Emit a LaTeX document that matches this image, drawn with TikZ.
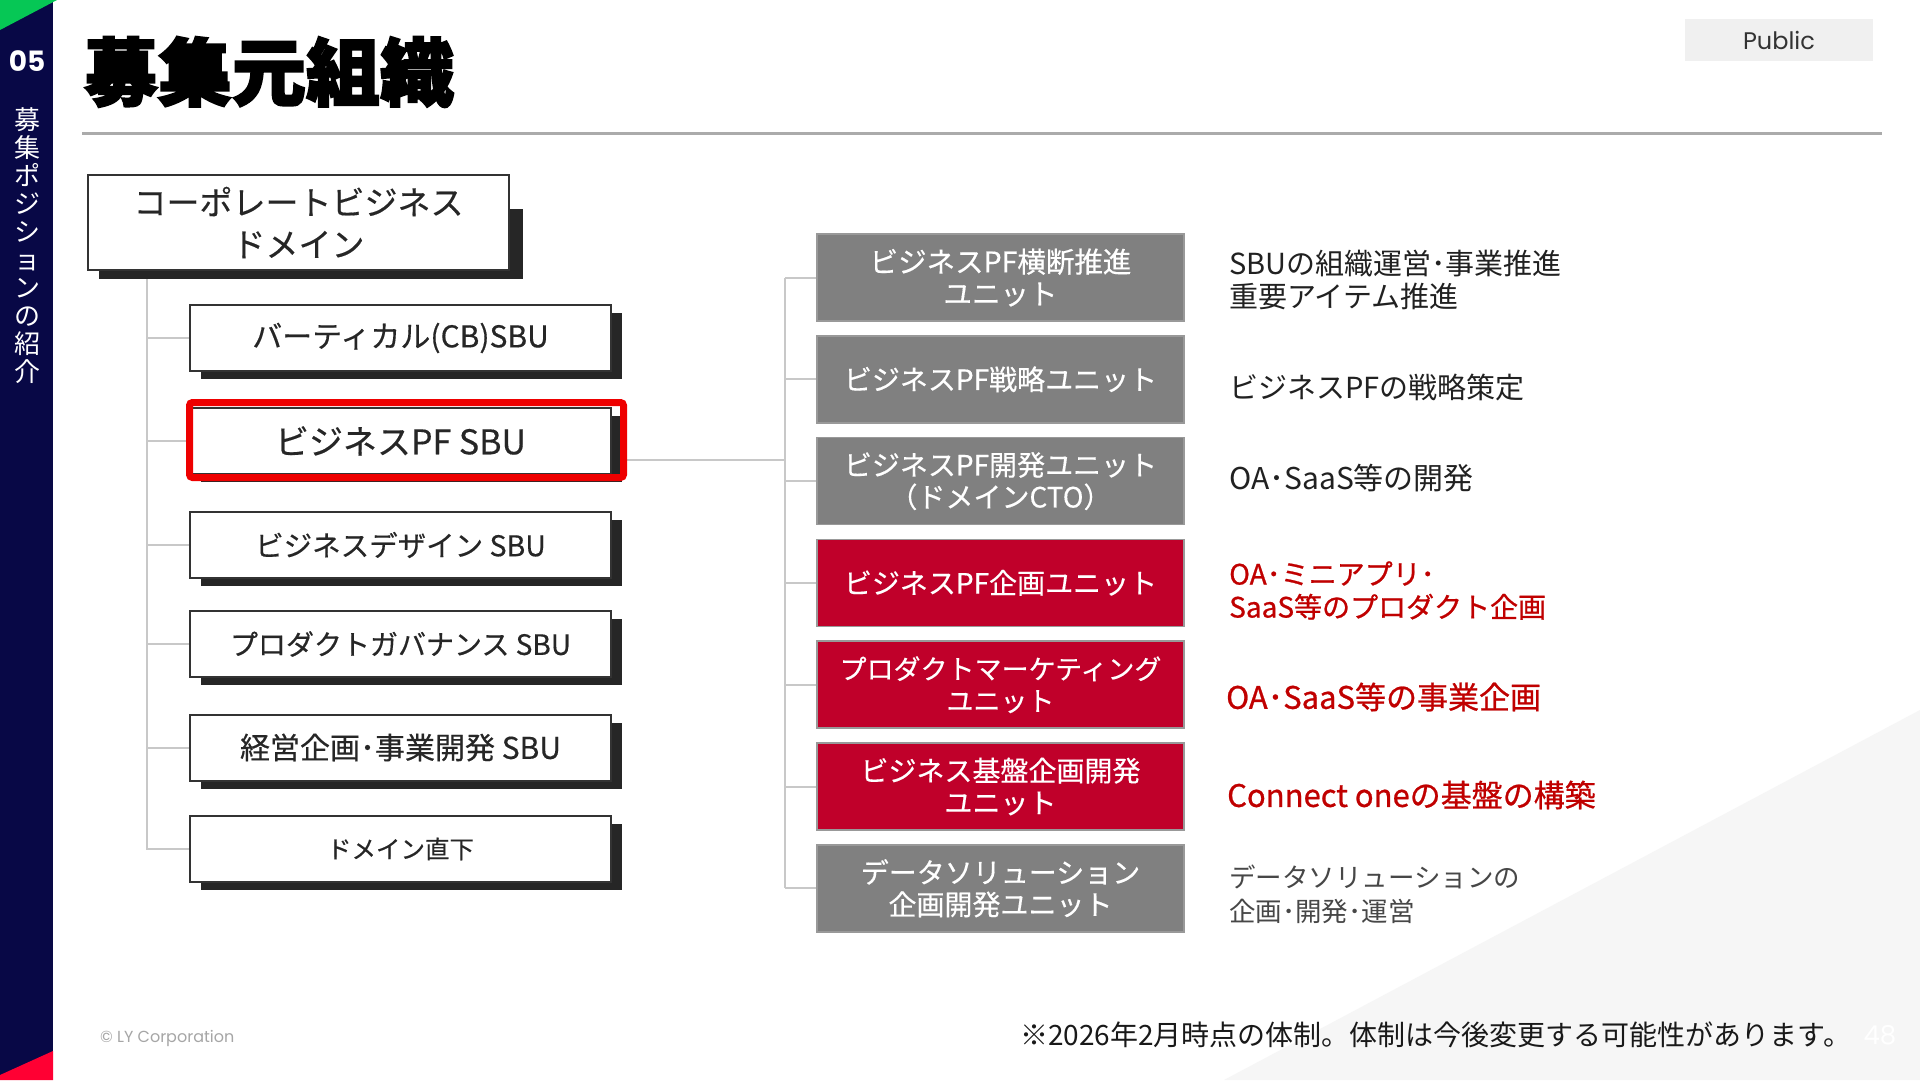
\documentclass[tikz,border=0pt]{standalone}
\usepackage{fontspec}
\usetikzlibrary{calc}
\setmainfont{Noto Sans CJK JP}
\newfontfamily\jp{Noto Sans CJK JP}
\newfontfamily\jpm[FakeBold=0.4]{Noto Sans CJK JP}
\newfontfamily\jpmed[FakeBold=0.8]{Noto Sans CJK JP}
\newfontfamily\jptitle[BoldFeatures={FakeBold=2.5}]{Noto Sans CJK JP}
\newfontfamily\pop{Poppins}
\definecolor{navy}{RGB}{8,8,70}
\definecolor{lygreen}{HTML}{06C755}
\definecolor{lyred}{HTML}{FF0033}
\definecolor{boxred}{HTML}{C0002A}
\definecolor{boxgray}{HTML}{808080}
\definecolor{treegray}{HTML}{C8C8C8}
\definecolor{shadowc}{HTML}{262626}
\definecolor{descred}{HTML}{C00000}
\definecolor{selred}{RGB}{238,0,0}
\definecolor{publicbg}{HTML}{F0F0F0}
\definecolor{bgtri}{HTML}{F6F6F6}
\pgfdeclarelayer{bg}
\pgfdeclarelayer{conn}
\pgfsetlayers{bg,conn,main}
\begin{document}
\begin{tikzpicture}[x=1pt,y=-1pt,
  boxbase/.style={draw=black!80, line width=2pt, fill=white, inner sep=0pt, align=center, text=black!85},
  sbu/.style={boxbase, minimum width=421pt, minimum height=66pt,
    font=\jpm\fontsize{30}{36}\selectfont,
    preaction={fill=shadowc, transform canvas={xshift=11pt,yshift=-8pt}}},
  unit/.style={draw=black!40, line width=1.5pt, minimum width=367pt, minimum height=87pt,
    inner sep=0pt, align=center, text=white, font=\jpm\fontsize{28}{32}\selectfont},
  graybox/.style={unit, fill=boxgray},
  redbox/.style={unit, fill=boxred},
  desc/.style={anchor=west, align=left, inner sep=0pt, font=\jp\fontsize{29}{33}\selectfont, text=black!87},
  descr/.style={anchor=west, align=left, inner sep=0pt, font=\jpmed\fontsize{28}{33}\selectfont, text=descred},
  tree/.style={draw=treegray, line width=2pt},
]
\useasboundingbox (0,0) rectangle (1920,1080);
\begin{pgfonlayer}{bg}
  \fill[white] (0,0) rectangle (1920,1080);
  \fill[bgtri] (1224,1080) -- (1920,710) -- (1920,1080) -- cycle;
  \fill[navy] (0,0) rectangle (53,1080);
  \fill[lygreen] (0,0) -- (57,0) -- (0,30) -- cycle;
  \fill[lyred] (0,1075) -- (53,1051) -- (53,1080) -- (0,1080) -- cycle;
\end{pgfonlayer}

% sidebar
\node[text=white, font=\pop\bfseries\fontsize{28}{30}\selectfont, inner sep=0pt] (num) at (27,61) {05};
\node[text=white, font=\jp\fontsize{26}{28}\selectfont, align=center, inner sep=0pt, anchor=north] (side) at (27,107)
  {募\\集\\ポ\\ジ\\シ\\ョ\\ン\\の\\紹\\介};

% title
\node[font=\jptitle\bfseries\fontsize{74}{80}\selectfont, inner sep=0pt] (title) at (269,72) {募集元組織};
\draw[line width=3pt, black!33] (82,133) -- (1882,133);
\node[fill=publicbg, minimum width=188pt, minimum height=42pt, inner sep=0pt,
  font=\pop\fontsize{24}{26}\selectfont, text=black!80] (pub) at (1779,40) {Public};

% left tree
\node[boxbase, minimum width=421pt, minimum height=95pt, font=\jpm\fontsize{33}{42}\selectfont] (tb) at (298.5,222.5)
  {コーポレートビジネス\\ドメイン};
\node[sbu] (b1) at (400.5,338) {バーティカル(CB)SBU};
\node[sbu, font=\jpm\fontsize{34}{40}\selectfont] (b2) at (400.5,441) {ビジネスPF SBU};
\node[sbu, font=\jpm\fontsize{28.5}{34}\selectfont] (b3) at (400.5,545) {ビジネスデザイン SBU};
\node[sbu, font=\jpm\fontsize{28}{34}\selectfont] (b4) at (400.5,644) {プロダクトガバナンス SBU};
\node[sbu] (b5) at (400.5,747.5) {経営企画･事業開発 SBU};
\node[sbu, font=\jpm\fontsize{24.5}{30}\selectfont] (b6) at (400.5,849) {ドメイン直下};
\node[draw=selred, line width=7pt, rounded corners=3pt, minimum width=434pt, minimum height=75pt, inner sep=0pt] (pfsel) at (406.5,440) {};

% right units
\node[graybox, font=\jpm\fontsize{28.5}{32}\selectfont] (u1) at (1000.5,277.5) {ビジネスPF横断推進\\ユニット};
\node[graybox] (u2) at (1000.5,379.3) {ビジネスPF戦略ユニット};
\node[graybox] (u3) at (1000.5,481.1) {ビジネスPF開発ユニット\\（ドメインCTO）};
\node[redbox] (u4) at (1000.5,582.9) {ビジネスPF企画ユニット};
\node[redbox, font=\jpm\fontsize{27}{32}\selectfont] (u5) at (1000.5,684.7) {プロダクトマーケティング\\ユニット};
\node[redbox] (u6) at (1000.5,786.5) {ビジネス基盤企画開発\\ユニット};
\node[graybox] (u7) at (1000.5,888.3) {データソリューション\\企画開発ユニット};

% descriptions
\node[desc] (d1) at (1229,280) {SBUの組織運営･事業推進\\重要アイテム推進};
\node[desc] (d2) at (1229,387) {ビジネスPFの戦略策定};
\node[desc, font=\jp\fontsize{30}{33}\selectfont] (d3) at (1229,478) {OA･SaaS等の開発};
\node[descr] (d4) at (1229,590.5) {OA･ミニアプリ･\\SaaS等のプロダクト企画};
\node[descr, font=\jpmed\fontsize{31}{36}\selectfont] (d5) at (1226,697) {OA･SaaS等の事業企画};
\node[descr, font=\jpmed\fontsize{31}{36}\selectfont] (d6) at (1227,795) {Connect oneの基盤の構築};
\node[desc, text=black!72, font=\jp\fontsize{26.5}{34}\selectfont] (d7) at (1229,894) {データソリューションの\\企画･開発･運営};

% connectors
\begin{pgfonlayer}{conn}
  \coordinate (lx) at (147,0);
  \draw[tree] (tb.south -| lx) -- (b6.west -| lx) -- (b6.west);
  \foreach \i in {1,...,5} { \draw[tree] (b\i.west -| lx) -- (b\i.west); }
  \fill[shadowc] ($(tb.south west)+(12,8)$) rectangle ($(tb.north east)+(13,35)$);
  \coordinate (rj) at (785,460);
  \draw[tree] (pfsel.east |- rj) -- (rj);
  \draw[tree] (rj |- u1.west) -- (rj |- u7.west);
  \foreach \i in {1,...,7} { \draw[tree] (rj |- u\i.west) -- (u\i.west); }
\end{pgfonlayer}

% footer
\node[anchor=west, inner sep=0pt, font=\pop\fontsize{16}{18}\selectfont, text=black!35] (copy) at (100,1038) {© LY Corporation};
\node[anchor=west, inner sep=0pt, font=\jp\fontsize{28}{30}\selectfont, text=black!90] (note) at (1020,1035)
  {※2026年2月時点の体制。体制は今後変更する可能性があります。};
\node[text=white, inner sep=0pt, font=\pop\fontsize{26}{28}\selectfont] (pg) at (1880,1035) {48};
\end{tikzpicture}
\end{document}
